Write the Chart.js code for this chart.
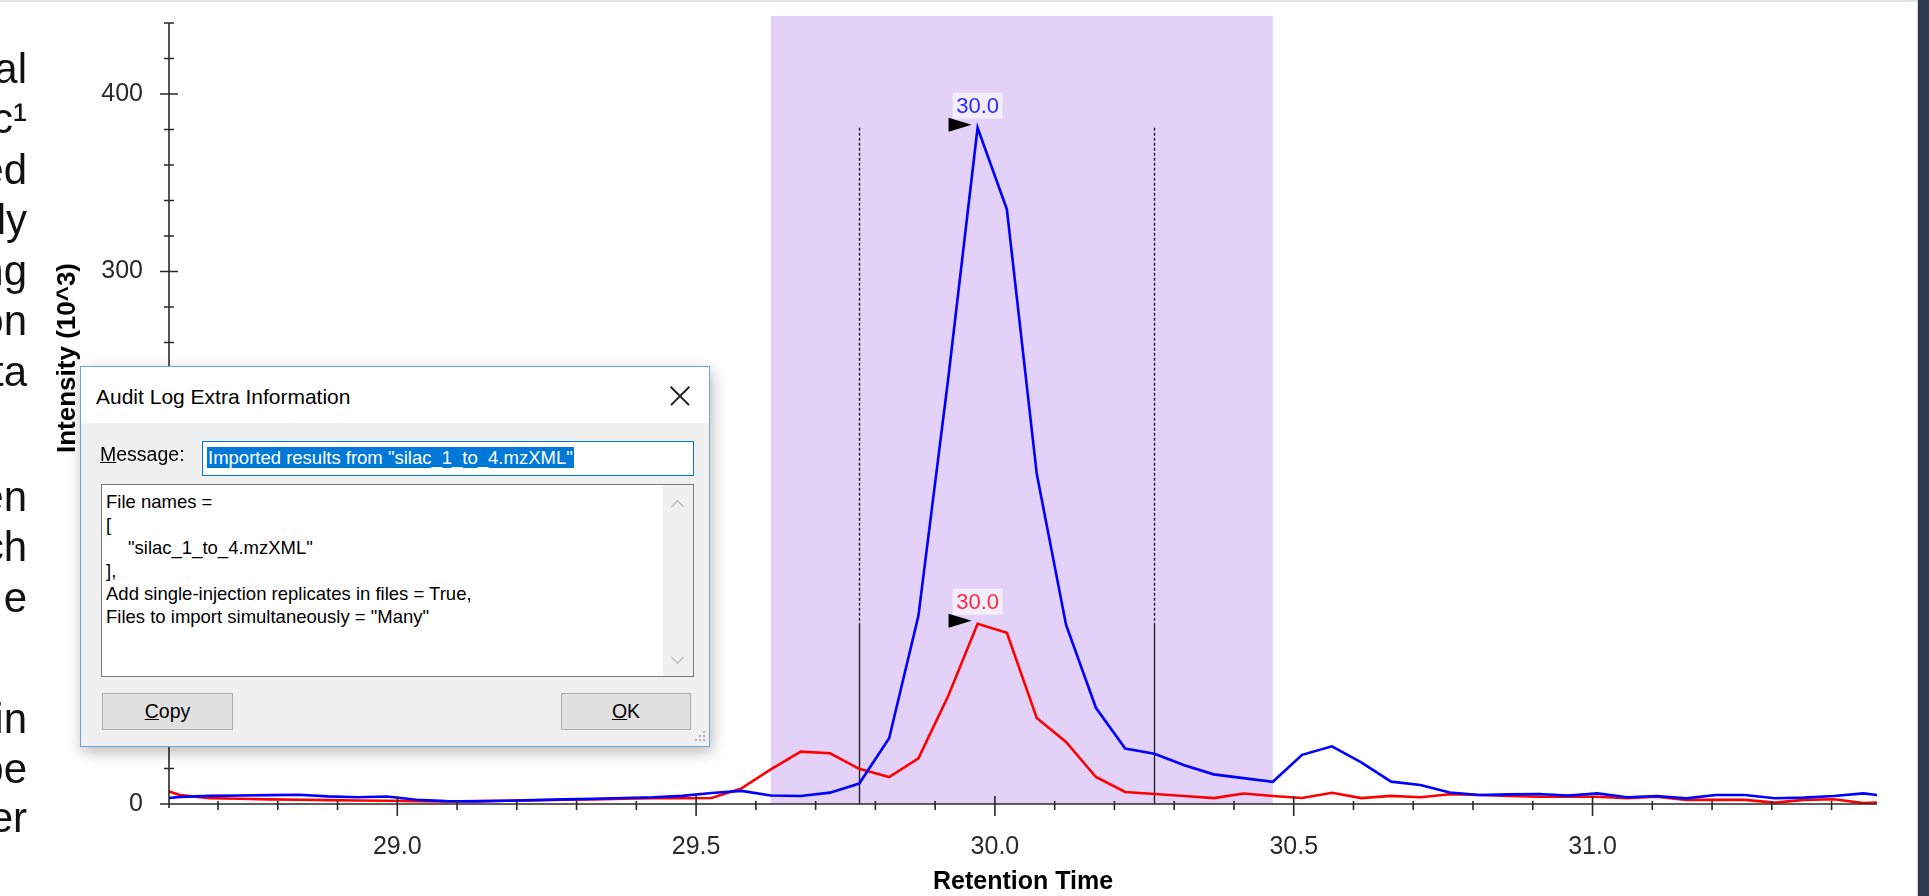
<!DOCTYPE html>
<html>
<head>
<meta charset="utf-8">
<script src="https://cdn.jsdelivr.net/npm/chart.js@4.4.1/dist/chart.umd.min.js"></script>
<style>
body{margin:0;width:1929px;height:896px;overflow:hidden;background:#fff;position:relative;font-family:"Liberation Sans",Arial,sans-serif}
#chart{position:absolute;left:0;top:0}
#topline{position:absolute;left:0;top:0;width:1929px;height:2px;background:#e4e4e4}
#rightbar{position:absolute;left:1917px;top:0;width:12px;height:896px;background:#2d3a4e;border-left:1px solid #d6d6d6}
.side{position:absolute;right:1902px;font-size:42px;line-height:50px;white-space:nowrap;color:#111}
#dlg{position:absolute;left:80px;top:366px;width:630px;height:381px;box-sizing:border-box;border:1px solid #6ea6d8;background:#f0f0f0;box-shadow:2px 5px 14px rgba(0,0,0,0.28);color:#000}
#dlg .tb{position:absolute;left:0;top:0;width:628px;height:56px;background:#fff}
#dlg .title{position:absolute;left:15px;top:18px;font-size:21px;line-height:24px}
#dlg .x{position:absolute;left:589px;top:19px;width:20px;height:20px}
#dlg .x:before,#dlg .x:after{content:"";position:absolute;left:-3px;top:9px;width:26px;height:1.5px;background:#222;transform:rotate(45deg)}
#dlg .x:after{transform:rotate(-45deg)}
#dlg .lbl{position:absolute;left:19px;top:75px;font-size:19.5px;line-height:24px}
#dlg .inp{position:absolute;left:121px;top:74px;width:492px;height:35px;box-sizing:border-box;border:1px solid #0078d7;background:#fff}
#dlg .sel{position:absolute;left:4px;top:5px;height:21px;line-height:21px;background:#0078d7;color:#fff;font-size:18.5px;white-space:nowrap;padding:0 1px}
#dlg .ta{position:absolute;left:20px;top:117px;width:593px;height:193px;box-sizing:border-box;border:1px solid #7a7a7a;background:#fff;font-size:18.5px;line-height:23px;padding:5px 0 0 4px;white-space:nowrap}
#dlg .ind{padding-left:22px}
#dlg .sb{position:absolute;right:0;top:0;width:30px;height:191px;background:#f0f0f0}
#dlg .chev{position:absolute;left:10px;width:8px;height:8px;border-left:1.5px solid #a6a6a6;border-top:1.5px solid #a6a6a6}
#dlg .up{top:17px;transform:rotate(45deg)}
#dlg .dn{top:168px;transform:rotate(225deg)}
#dlg .btn{position:absolute;top:326px;height:37px;box-sizing:border-box;border:1px solid #adadad;background:#e1e1e1;text-align:center;line-height:35px;font-size:19.5px}
#dlg .grip{position:absolute;left:622px;top:372px;width:2px;height:2px;background:#b8b8b8;box-shadow:-4px 0 #b8b8b8,-8px 0 #b8b8b8,0 -4px #b8b8b8,-4px -4px #b8b8b8,0 -8px #b8b8b8}
</style>
</head>
<body>
<canvas id="chart" width="1917" height="896"></canvas>
<div id="topline"></div>
<div id="rightbar"></div>

<div class="side" style="top:44px">al</div>
<div class="side" style="top:94px">c¹</div>
<div class="side" style="top:145px">ed</div>
<div class="side" style="top:195px">ly</div>
<div class="side" style="top:246px">ng</div>
<div class="side" style="top:296px">on</div>
<div class="side" style="top:347px">ta</div>
<div class="side" style="top:472px">en</div>
<div class="side" style="top:522px">ch</div>
<div class="side" style="top:573px">e</div>
<div class="side" style="top:694px">in</div>
<div class="side" style="top:744px">pe</div>
<div class="side" style="top:793px">er</div>

<div id="dlg">
  <div class="tb"><span class="title">Audit Log Extra Information</span><span class="x"></span></div>
  <span class="lbl"><u>M</u>essage:</span>
  <div class="inp"><span class="sel">Imported results from "silac_1_to_4.mzXML"</span></div>
  <div class="ta">File names =<br>[<br><span class="ind">"silac_1_to_4.mzXML"</span><br>],<br>Add single-injection replicates in files = True,<br>Files to import simultaneously = "Many"
    <div class="sb"><span class="chev up"></span><span class="chev dn"></span></div>
  </div>
  <div class="btn" style="left:21px;width:131px"><u>C</u>opy</div>
  <div class="btn" style="left:480px;width:130px"><u>O</u>K</div>
  <div class="grip"></div>
</div>

<script>
// retention time (min) of each scan
const retentionTimes = [
  28.588, 28.637, 28.687, 28.736, 28.785, 28.835, 28.884, 28.934, 28.983, 29.032,
  29.082, 29.131, 29.181, 29.230, 29.279, 29.329, 29.378, 29.428, 29.477, 29.526,
  29.576, 29.625, 29.675, 29.724, 29.773, 29.823, 29.872, 29.922, 29.971, 30.020,
  30.070, 30.119, 30.169, 30.218, 30.267, 30.317, 30.366, 30.416, 30.465, 30.514,
  30.564, 30.613, 30.663, 30.712, 30.761, 30.811, 30.860, 30.910, 30.959, 31.008,
  31.058, 31.107, 31.157, 31.206, 31.255, 31.305, 31.354, 31.404, 31.453, 31.502
];
// intensities in 10^3 - blue trace
const heavyIntensity = [
  2.5, 4.0, 4.6, 4.8, 5.0, 5.2, 4.3, 3.8, 4.2, 2.4,
  1.6, 1.5, 1.8, 2.2, 2.6, 3.0, 3.4, 3.8, 4.6, 6.2,
  7.4, 4.8, 4.5, 6.4, 11.5, 37.0, 106.0, 240.0, 381.0, 335.0,
  186.0, 101.0, 54.2, 31.2, 28.3, 21.8, 16.7, 14.6, 12.5, 27.7,
  32.5, 23.4, 12.6, 10.7, 6.5, 5.1, 5.4, 5.6, 4.7, 6.0,
  3.8, 4.5, 3.2, 5.1, 5.1, 3.2, 3.6, 4.5, 6.0, 4.0
];
// red trace
const lightIntensity = [
  10.5, 5.0, 3.3, 3.0, 2.6, 2.4, 2.2, 2.0, 1.8, 1.6,
  1.4, 1.6, 1.8, 2.1, 2.4, 2.6, 3.0, 3.2, 3.2, 3.4,
  8.8, 19.5, 29.5, 28.6, 19.8, 15.2, 25.7, 61.0, 101.5, 96.5,
  48.5, 35.0, 15.2, 6.8, 5.6, 4.5, 3.3, 5.9, 4.5, 3.4,
  6.3, 3.3, 4.6, 3.8, 5.5, 5.1, 4.5, 4.1, 4.1, 4.1,
  3.2, 4.1, 2.3, 2.3, 2.3, 0.8, 2.3, 2.7, 0.5, 1.3
];

const xMajorTicks = [29.0, 29.5, 30.0, 30.5, 31.0];
const xMinorTicks = [28.7, 28.8, 28.9, 29.1, 29.2, 29.3, 29.4, 29.6, 29.7, 29.8, 29.9,
  30.1, 30.2, 30.3, 30.4, 30.6, 30.7, 30.8, 30.9, 31.1, 31.2, 31.3, 31.4];
const yMajorTicks = [0, 100, 200, 300, 400];
const yMinorTicks = [20, 40, 60, 80, 120, 140, 160, 180, 220, 240, 260, 280, 320, 340, 360, 380, 420, 440];

const peakWindow = [29.625, 30.465];       // shaded area
const integrationBounds = [29.773, 30.267]; // boundary lines

const FONT = "'Liberation Sans', Arial, sans-serif";
const INK = '#2a2a2a';

// shaded window + boundary lines, under the traces
const peakArea = {
  id: 'peakArea',
  beforeDatasetsDraw(chart) {
    const {ctx, chartArea: a, scales: {x, y}} = chart;
    const hiPeak = Math.max(...heavyIntensity);
    const loPeak = Math.max(...lightIntensity);
    ctx.save();
    ctx.fillStyle = '#e3d1f7';
    const x0 = x.getPixelForValue(peakWindow[0]);
    const x1 = x.getPixelForValue(peakWindow[1]);
    const top = y.getPixelForValue(444);
    ctx.fillRect(x0, top, x1 - x0, a.bottom - top);

    ctx.strokeStyle = '#222';
    ctx.lineWidth = 1.4;
    integrationBounds.forEach(t => {
      const px = Math.round(x.getPixelForValue(t)) + 0.5;
      ctx.setLineDash([3, 2]);
      ctx.beginPath();
      ctx.moveTo(px, y.getPixelForValue(hiPeak));
      ctx.lineTo(px, y.getPixelForValue(loPeak));
      ctx.stroke();
      ctx.setLineDash([]);
      ctx.beginPath();
      ctx.moveTo(px, y.getPixelForValue(loPeak));
      ctx.lineTo(px, a.bottom);
      ctx.stroke();
    });
    ctx.restore();
  }
};

// retention time flag over each apex
const peakFlags = {
  id: 'peakFlags',
  afterDatasetsDraw(chart) {
    const ctx = chart.ctx;
    chart.data.datasets.forEach((ds, i) => {
      const vals = ds.data.map(p => p.y);
      const k = vals.indexOf(Math.max(...vals));
      const pt = chart.getDatasetMeta(i).data[k];
      ctx.save();
      ctx.fillStyle = '#000';
      ctx.beginPath();
      ctx.moveTo(pt.x - 29, pt.y - 10);
      ctx.lineTo(pt.x - 29, pt.y + 4);
      ctx.lineTo(pt.x - 6, pt.y - 3);
      ctx.closePath();
      ctx.fill();
      ctx.fillStyle = 'rgba(255,255,255,0.6)';
      ctx.fillRect(pt.x - 25, pt.y - 35, 50, 26);
      ctx.fillStyle = ds.flagColor;
      ctx.font = '22px ' + FONT;
      ctx.textAlign = 'center';
      ctx.textBaseline = 'middle';
      ctx.fillText(retentionTimes[k].toFixed(1), pt.x, pt.y - 21);
      ctx.restore();
    });
  }
};

// axis lines, crossing tick marks, y title
const axisDecor = {
  id: 'axisDecor',
  afterDraw(chart) {
    const {ctx, chartArea: a, scales: {x, y}} = chart;
    ctx.save();
    ctx.strokeStyle = INK;
    ctx.lineWidth = 1.6;
    ctx.beginPath();
    ctx.moveTo(a.left - 9, a.bottom);
    ctx.lineTo(a.right, a.bottom);
    ctx.moveTo(a.left, a.top);
    ctx.lineTo(a.left, a.bottom + 4);
    xMajorTicks.forEach(v => {
      const px = x.getPixelForValue(v);
      ctx.moveTo(px, a.bottom - 8);
      ctx.lineTo(px, a.bottom + 12);
    });
    xMinorTicks.forEach(v => {
      const px = x.getPixelForValue(v);
      ctx.moveTo(px, a.bottom - 3);
      ctx.lineTo(px, a.bottom + 6);
    });
    yMajorTicks.forEach(v => {
      const py = y.getPixelForValue(v);
      ctx.moveTo(a.left - 9, py);
      ctx.lineTo(a.left + 9, py);
    });
    yMinorTicks.forEach(v => {
      const py = y.getPixelForValue(v);
      ctx.moveTo(a.left - 5, py);
      ctx.lineTo(a.left + 5, py);
    });
    ctx.stroke();

    ctx.translate(68, 358);
    ctx.rotate(-Math.PI / 2);
    ctx.fillStyle = '#000';
    ctx.font = 'bold 26px ' + FONT;
    ctx.textAlign = 'center';
    ctx.textBaseline = 'middle';
    ctx.fillText('Intensity (10^3)', 0, 0);
    ctx.restore();
  }
};

const toPoints = vals => retentionTimes.map((t, i) => ({x: t, y: vals[i]}));

new Chart(document.getElementById('chart'), {
  type: 'line',
  data: {
    datasets: [
      {label: 'heavy', data: toPoints(heavyIntensity), borderColor: '#0000ff', flagColor: '#2a2aff',
       borderWidth: 2.6, pointRadius: 0, tension: 0},
      {label: 'light', data: toPoints(lightIntensity), borderColor: '#ff0000', flagColor: '#ff2a40',
       borderWidth: 2.6, pointRadius: 0, tension: 0}
    ]
  },
  options: {
    responsive: false,
    animation: false,
    layout: {padding: {left: 0, right: 40, top: 23, bottom: 0}},
    plugins: {legend: {display: false}, tooltip: {enabled: false}},
    scales: {
      x: {
        type: 'linear', min: 28.618, max: 31.476,
        afterBuildTicks: s => { s.ticks = xMajorTicks.map(v => ({value: v})); },
        afterFit: s => { s.height = 92; s.paddingLeft = 0; s.paddingRight = 0; },
        grid: {display: false}, border: {display: false},
        ticks: {callback: v => v.toFixed(1), color: INK, padding: 20, maxRotation: 0, autoSkip: false,
                font: {family: FONT, size: 25}},
        title: {display: true, text: 'Retention Time', color: '#000', padding: {top: 0, bottom: 1},
                font: {family: FONT, size: 25, weight: 'bold', lineHeight: 1}}
      },
      y: {
        type: 'linear', min: 0, max: 440,
        afterBuildTicks: s => { s.ticks = yMajorTicks.map(v => ({value: v})); },
        afterFit: s => { s.width = 169; s.paddingTop = 0; s.paddingBottom = 0; },
        grid: {display: false}, border: {display: false},
        ticks: {color: INK, padding: 18, font: {family: FONT, size: 25}}
      }
    }
  },
  plugins: [peakArea, peakFlags, axisDecor]
});
</script>
</body>
</html>
